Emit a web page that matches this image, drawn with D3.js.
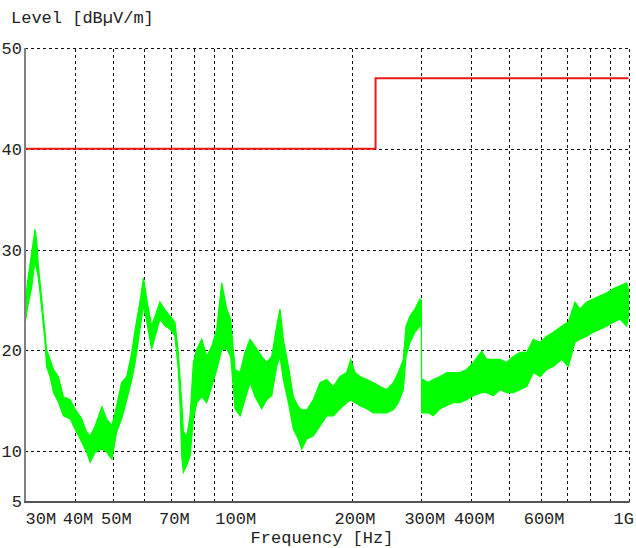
<!DOCTYPE html>
<html>
<head>
<meta charset="utf-8">
<script src="https://cdn.jsdelivr.net/npm/d3@7"></script>
<style>
  html, body { margin: 0; padding: 0; background: #fff; }
  svg { display: block; }
  text { font-family: "Liberation Mono", "Courier New", monospace; fill: #222; }
</style>
</head>
<body>
<script>
// Measured emission envelope (peak detector): frequency in MHz, upper/lower level in dBµV/m
const freqMHz = [
  30.0, 30.5, 31.2, 31.8, 32.1, 32.4, 33.1, 33.7, 34.0, 34.7, 35.4, 36.4, 37.5, 39.0, 40.1,
  41.7, 42.9, 43.8, 45.1, 46.9, 48.2, 49.7, 51.1, 52.6, 54.2, 55.8, 56.9, 58.5, 59.7, 60.9,
  62.6, 63.9, 65.7, 67.7, 69.7, 71.7, 73.1, 73.8, 74.6, 75.3, 76.8, 78.3, 79.8, 81.4, 83.8,
  86.2, 88.8, 91.4, 94.1, 96.9, 99.1, 101.7, 104.7, 107.7, 110.9, 114.2, 118.7, 122.2, 125.8, 129.5,
  132.0, 134.6, 138.6, 142.6, 146.8, 149.8, 154.2, 160.2, 166.6, 173.2, 180.0, 187.1, 194.5, 199.1, 204.1,
  210.1, 218.5, 227.0, 236.0, 245.4, 255.0, 262.5, 270.3, 274.5, 281.0, 289.2, 297.7, 300.0, 300.6, 303.5,
  312.4, 321.7, 334.4, 347.7, 361.3, 375.7, 390.6, 405.8, 426.1, 438.7, 455.9, 474.0, 492.8, 512.1, 532.4,
  553.5, 575.1, 597.9, 621.7, 646.1, 678.4, 704.8, 732.8, 754.4, 784.4, 815.0, 847.4, 881.1, 915.5, 951.7,
  989.5, 1000
];
const levelHigh = [
  24.6, 27.0, 29.7, 32.0, 31.0, 28.5, 24.9, 21.8, 20.1, 19.1, 18.1, 17.4, 15.4, 15.1, 14.2,
  13.2, 11.9, 11.5, 12.5, 14.4, 13.2, 12.5, 14.5, 16.8, 17.4, 19.8, 22.1, 24.8, 27.2, 25.0,
  22.4, 23.4, 24.8, 24.0, 23.4, 22.8, 19.8, 17.4, 14.8, 11.9, 11.5, 13.5, 18.8, 20.1, 21.1,
  19.4, 20.4, 22.1, 26.7, 24.1, 23.1, 18.1, 17.8, 19.8, 21.1, 20.4, 19.4, 18.8, 19.4, 22.4,
  24.1, 21.1, 18.4, 15.4, 14.4, 14.1, 14.1, 15.1, 16.8, 17.1, 16.4, 17.4, 17.8, 19.1, 17.8,
  17.4, 17.1, 16.8, 16.4, 16.1, 16.8, 17.8, 19.1, 22.4, 23.4, 24.1, 25.1, 25.0, 17.1, 17.1,
  16.8, 17.1, 17.4, 17.8, 17.8, 17.8, 18.1, 18.8, 19.9, 19.1, 19.1, 19.1, 18.8, 19.4, 19.8,
  19.8, 21.1, 20.8, 21.4, 21.8, 22.4, 22.8, 24.8, 24.1, 24.8, 25.1, 25.4, 25.7, 26.1, 26.4,
  26.7, 26.0
];
const levelLow = [
  22.6, 24.4, 26.3, 29.0, 28.0, 27.3, 23.9, 20.8, 18.4, 17.4, 15.8, 14.9, 13.5, 13.2, 12.2,
  10.9, 9.9, 8.9, 9.9, 10.2, 9.9, 9.2, 11.9, 13.2, 15.1, 17.1, 18.8, 22.1, 24.4, 22.8,
  20.1, 21.4, 23.1, 22.4, 22.1, 21.4, 18.1, 14.9, 9.5, 7.9, 8.6, 9.5, 13.2, 14.8, 15.4,
  14.8, 16.4, 18.1, 20.1, 20.1, 19.4, 14.2, 13.5, 15.1, 16.8, 15.4, 14.2, 15.1, 15.5, 18.4,
  19.4, 17.1, 14.8, 12.2, 11.2, 10.2, 11.2, 11.5, 12.5, 13.5, 13.5, 14.2, 14.8, 15.1, 14.8,
  14.5, 14.2, 13.8, 13.8, 13.8, 14.1, 14.8, 16.1, 19.4, 20.8, 21.8, 22.4, 22.6, 13.8, 13.8,
  13.8, 13.5, 14.2, 14.5, 14.8, 14.8, 15.1, 15.5, 15.8, 15.8, 15.5, 16.1, 15.8, 15.8, 16.1,
  16.4, 17.8, 17.4, 18.1, 18.4, 19.1, 18.4, 20.8, 21.1, 21.4, 21.8, 22.1, 22.4, 22.8, 23.1,
  22.4, 23.4
];

// Limit line (step at 230 MHz)
const limitFreqMHz = [30, 230, 230, 1000];
const limitLevel = [40, 40, 47, 47];

// Axis annotations
const gridFreqMHz = [40, 50, 60, 70, 80, 90, 100, 200, 300, 400, 500, 600, 700, 800, 900, 1000];
const gridLevels = [10, 20, 30, 40, 50];
const xTickFreqMHz = [30, 40, 50, 70, 100, 200, 300, 400, 600, 1000];
const xTickLabels = ["30M", "40M", "50M", "70M", "100M", "200M", "300M", "400M", "600M", "1G"];
const yTickLevels = [5, 10, 20, 30, 40, 50];

const W = 636, H = 548;
const plot = { left: 25, right: 628.5, top: 48, bottom: 501.5 };

const x = d3.scaleLog().domain([30e6, 1e9]).range([plot.left, plot.right]);
const y = d3.scaleLinear().domain([5, 50]).range([plot.bottom, plot.top]);

const svg = d3.select("body").append("svg").attr("width", W).attr("height", H);

// Dashed grid
const gridX = svg.append("g")
  .attr("transform", `translate(0,${plot.bottom})`)
  .call(d3.axisBottom(x).tickValues(gridFreqMHz.map(f => f * 1e6))
    .tickSize(-(plot.bottom - plot.top)).tickFormat(""));
gridX.select(".domain").remove();
gridX.selectAll("line").attr("stroke", "#111").attr("stroke-width", 1)
  .attr("stroke-dasharray", "3,3").attr("shape-rendering", "crispEdges");

const gridY = svg.append("g")
  .attr("transform", `translate(${plot.left},0)`)
  .call(d3.axisLeft(y).tickValues(gridLevels)
    .tickSize(-(plot.right - plot.left)).tickFormat(""));
gridY.select(".domain").remove();
gridY.selectAll("line").attr("stroke", "#111").attr("stroke-width", 1)
  .attr("stroke-dasharray", "3,3").attr("shape-rendering", "crispEdges");

// Measured trace as min/max band
const trace = freqMHz.map((f, i) => ({ f: f * 1e6, hi: levelHigh[i], lo: levelLow[i] }));
const band = d3.area()
  .x(d => x(d.f))
  .y0(d => y(d.lo))
  .y1(d => y(d.hi));
svg.append("path")
  .datum(trace)
  .attr("d", band)
  .attr("fill", "#00ff00")
  .attr("stroke", "#00ff00")
  .attr("stroke-width", 1.2)
  .attr("stroke-linejoin", "miter");

// Limit line
const limit = limitFreqMHz.map((f, i) => ({ f: f * 1e6, v: limitLevel[i] }));
svg.append("path")
  .datum(limit)
  .attr("d", d3.line().x(d => x(d.f)).y(d => y(d.v)))
  .attr("fill", "none")
  .attr("stroke", "#f01818")
  .attr("stroke-width", 2);

// Axis frame lines
svg.append("line")
  .attr("x1", plot.left).attr("x2", plot.left)
  .attr("y1", plot.top).attr("y2", plot.bottom + 1)
  .attr("stroke", "#808080").attr("stroke-width", 2);
svg.append("line")
  .attr("x1", plot.left - 1).attr("x2", plot.right + 1)
  .attr("y1", plot.bottom + 0.5).attr("y2", plot.bottom + 0.5)
  .attr("stroke", "#555").attr("stroke-width", 2);

// X tick labels
const xAxis = svg.append("g")
  .attr("transform", `translate(0,${plot.bottom})`)
  .call(d3.axisBottom(x).tickValues(xTickFreqMHz.map(f => f * 1e6))
    .tickSize(0).tickPadding(10)
    .tickFormat((d, i) => xTickLabels[i]));
xAxis.select(".domain").remove();
xAxis.selectAll("text")
  .style("font-family", "'Liberation Mono', monospace")
  .style("font-size", "17px")
  .attr("fill", "#222")
  .attr("dx", 3)
  .each(function (d, i, nodes) {
    if (i === 0) d3.select(this).attr("text-anchor", "start").attr("dx", 0);
    if (i === nodes.length - 1) d3.select(this).attr("text-anchor", "end").attr("dx", 5);
  });

// Y tick labels
const yAxis = svg.append("g")
  .attr("transform", `translate(${plot.left},0)`)
  .call(d3.axisLeft(y).tickValues(yTickLevels).tickSize(0).tickPadding(3));
yAxis.select(".domain").remove();
yAxis.selectAll("text")
  .style("font-family", "'Liberation Mono', monospace")
  .style("font-size", "17px")
  .attr("fill", "#222");

// Axis titles
svg.append("text")
  .attr("x", 11).attr("y", 23)
  .style("font-size", "17px")
  .text("Level [dBµV/m]");
svg.append("text")
  .attr("x", 322).attr("y", 543)
  .attr("text-anchor", "middle")
  .style("font-size", "17px")
  .text("Frequency [Hz]");
</script>
</body>
</html>
